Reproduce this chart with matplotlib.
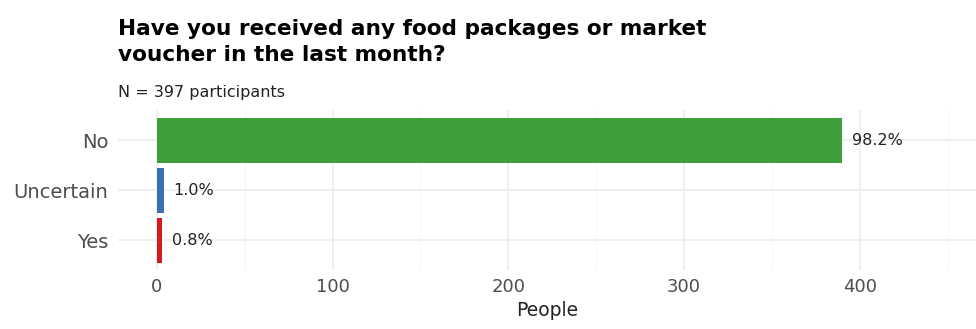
import matplotlib.pyplot as plt

plt.rcParams['font.family'] = ['DejaVu Sans']

categorias = ['No', 'Uncertain', 'Yes']
pessoas = [390, 4, 3]
rotulos = ['98.2%', '1.0%', '0.8%']
cores = ['#3f9f3d', '#3a6fb0', '#d7191f']
total = 397

fig = plt.figure(figsize=(9.76, 3.29), dpi=100)
ax = fig.add_axes([0.121, 0.179, 0.879, 0.486])

ypos = [2, 1, 0]
ax.barh(ypos, pessoas, height=0.9, color=cores, zorder=3)
for y, v, r in zip(ypos, pessoas, rotulos):
    ax.annotate(r, (v, y), xytext=(7, 0), textcoords='offset points',
                va='center', ha='left', fontsize=11.5, color='#222222')

ax.set_xlim(-22, 466)
ax.set_ylim(-0.6, 2.6)
ax.set_yticks(ypos)
ax.set_yticklabels(categorias)
ax.set_xticks([0, 100, 200, 300, 400])
ax.set_xticks([50, 150, 250, 350, 450], minor=True)
ax.tick_params(axis='both', which='both', length=0, labelsize=13, labelcolor='#4d4d4d')
ax.tick_params(axis='y', labelsize=14, pad=7)
ax.tick_params(axis='x', pad=6)
ax.grid(True, which='major', color='#ebebeb', linewidth=1.1, zorder=0)
ax.grid(True, which='minor', axis='x', color='#f3f3f3', linewidth=0.6, zorder=0)
for s in ax.spines.values():
    s.set_visible(False)
ax.set_xlabel('People', fontsize=13.5, color='#222222', labelpad=3)

fig.text(0.121, 1 - 19 / 329, 'Have you received any food packages or market\nvoucher in the last month?',
         fontsize=15.6, fontweight='bold', ha='left', va='top', linespacing=1.35)
fig.text(0.121, 1 - 85 / 329, f'N = {total} participants', fontsize=11.5, ha='left', va='top', color='#222222')

fig.savefig('out.png', dpi=100)
